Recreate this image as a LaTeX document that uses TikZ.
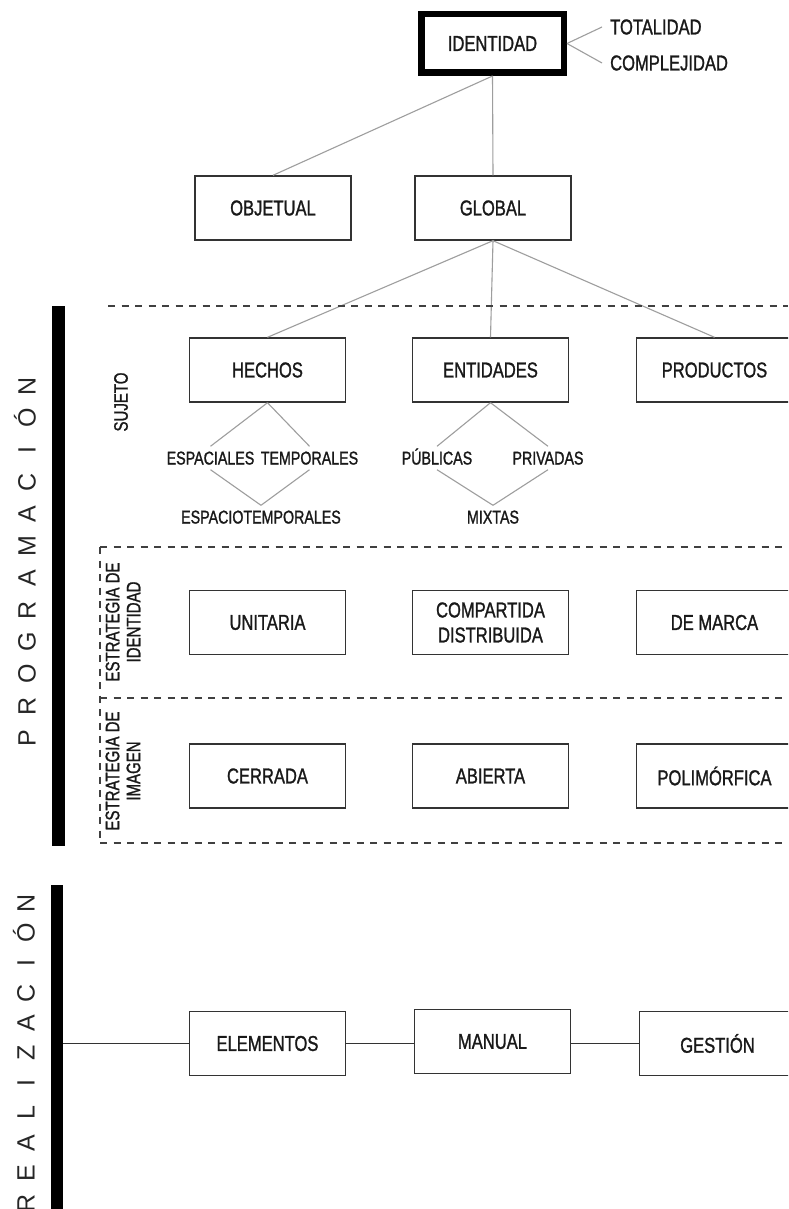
\documentclass[tikz,border=0pt]{standalone}
\usepackage{fontspec}
\setmainfont{Liberation Sans}[FakeStretch=0.77, FakeBold=1.2]
\newfontfamily\widefont{Liberation Sans}
\newlength\lpitch
\newcommand\lp[1]{\makebox[\lpitch]{#1}}
\begin{document}
\begin{tikzpicture}[x=1pt,y=-1pt,
  box/.style={draw=black!80, line width=1.4pt, minimum width=156pt, minimum height=64pt, inner sep=0pt, font=\fontsize{21.5}{25}\selectfont, text=black!90, align=center},
  sub/.style={font=\fontsize{18.5}{20}\selectfont, inner sep=5pt, text height=13pt, text depth=0pt, text=black!90},
  tree/.style={draw=black!38, line width=1.1pt},
  link/.style={draw=black!80, line width=1.4pt},
  sep/.style={draw=black!75, line width=1.6pt, dash pattern=on 7pt off 6.5pt},
  side/.style={font=\fontsize{19.5}{21}\selectfont, rotate=90, align=center, inner sep=0pt, text=black!90},
  bar/.style={fill=black, draw=none, inner sep=0pt},
  big/.style={font=\widefont\fontsize{25}{26}\selectfont, rotate=90, inner sep=0pt, text=black!85}
]
\clip (0,0) rectangle (788,1209);
\fill[white] (0,0) rectangle (788,1209);

% top
\node[draw=black, line width=6.5pt, minimum width=142.5pt, minimum height=58.5pt, inner sep=0pt, font=\fontsize{21.5}{25}\selectfont, text=black!90] (idn) at (492.5,43.5) {IDENTIDAD};
\node[anchor=west, inner sep=8pt, font=\fontsize{21.5}{25}\selectfont, text=black!90] (tot) at (602,27) {TOTALIDAD};
\node[anchor=west, inner sep=8pt, font=\fontsize{21.5}{25}\selectfont, text=black!90] (comp) at (602,63) {COMPLEJIDAD};

\node[box] (obj) at (273,208) {OBJETUAL};
\node[box] (glob) at (493,208) {GLOBAL};

\node[box] (hechos) at (267.5,370) {HECHOS};
\node[box] (ent) at (490.5,370) {ENTIDADES};
\node[box] (prod) at (714.5,370) {PRODUCTOS};

\node[box] (unit) at (267.5,622.5) {UNITARIA};
\node[box] (compd) at (490.5,622.5) {COMPARTIDA\\DISTRIBUIDA};
\node[box] (marca) at (714.5,622.5) {DE MARCA};

\node[box] (cerr) at (267.5,776) {CERRADA};
\node[box] (abi) at (490.5,776) {ABIERTA};
\node[box] (poli) at (714.5,776) {POLIMÓRFICA};

\node[box] (elem) at (267.5,1043.5) {ELEMENTOS};
\node[box] (man) at (492.5,1041.5) {MANUAL};
\node[box] (ges) at (717.5,1043.5) {GESTIÓN};

% sub labels
\node[sub] (espa) at (210.5,458) {ESPACIALES};
\node[sub] (temp) at (309.5,458) {TEMPORALES};
\node[sub] (espt) at (261,517) {ESPACIOTEMPORALES};
\node[sub] (pub) at (437,458) {PÚBLICAS};
\node[sub] (priv) at (548,458) {PRIVADAS};
\node[sub] (mix) at (493,517) {MIXTAS};

% tree connectors
\draw[tree] (idn.east) -- (tot.west);
\draw[tree] (idn.east) -- (comp.west);
\draw[tree] (idn.south) -- (obj.north);
\draw[tree] (idn.south) -- (glob.north);
\draw[tree] (glob.south) -- (hechos.north);
\draw[tree] (glob.south) -- (ent.north);
\draw[tree] (glob.south) -- (prod.north);
\draw[tree] (hechos.south) -- (espa.north);
\draw[tree] (hechos.south) -- (temp.north);
\draw[tree] (espa.south) -- (espt.north);
\draw[tree] (temp.south) -- (espt.north);
\draw[tree] (ent.south) -- (pub.north);
\draw[tree] (ent.south) -- (priv.north);
\draw[tree] (pub.south) -- (mix.north);
\draw[tree] (priv.south) -- (mix.north);

% separators
\draw[sep] (108,306) -- (788,306);
\draw[sep] (100,547) -- (788,547);
\draw[sep] (100,698) -- (788,698);
\draw[sep] (100,843) -- (788,843);
\draw[sep] (100,547) -- (100,843);

% side labels
\node[side] (suj) at (121,402) {SUJETO};
\node[side] (eid) at (123,622) {ESTRATEGIA DE\\IDENTIDAD};
\node[side] (eim) at (123,771) {ESTRATEGIA DE\\IMAGEN};

% bars
\node[bar, minimum width=13pt, minimum height=540pt] (pbar) at (58,576) {};
\node[bar, minimum width=12pt, minimum height=330pt] (rbar) at (57,1050) {};

\node[big] (prog) at (25,562) {\setlength\lpitch{32pt}\lp{P}\lp{R}\lp{O}\lp{G}\lp{R}\lp{A}\lp{M}\lp{A}\lp{C}\lp{I}\lp{Ó}\lp{N}};
\node[big] (real) at (24,1053) {\setlength\lpitch{30pt}\lp{R}\lp{E}\lp{A}\lp{L}\lp{I}\lp{Z}\lp{A}\lp{C}\lp{I}\lp{Ó}\lp{N}};

% bottom links
\draw[link] (rbar.east |- elem.west) -- (elem.west);
\draw[link] (elem.east) -- (elem.east -| man.west);
\draw[link] (man.east |- elem.east) -- (elem.east -| ges.west);
\end{tikzpicture}
\end{document}
